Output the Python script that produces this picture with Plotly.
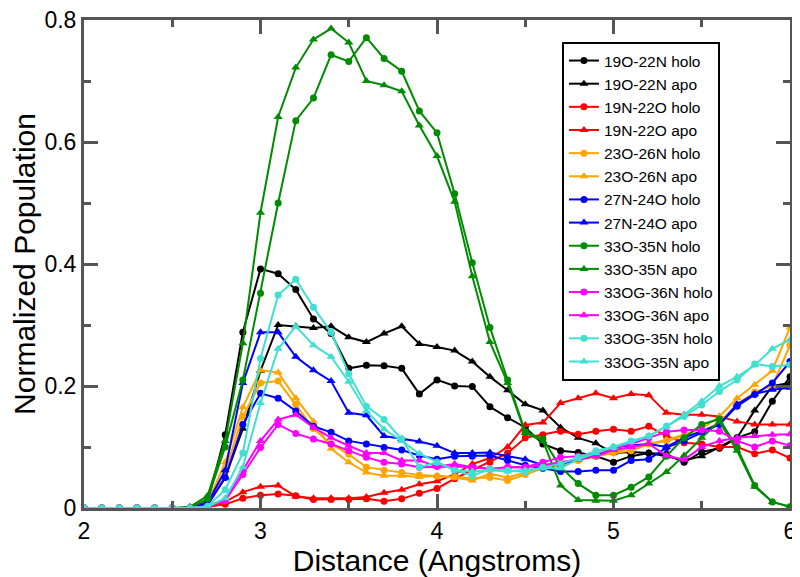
import plotly.graph_objects as go

distance = [round(2.0 + 0.1 * i, 1) for i in range(41)]
Z = [0.0] * 6  # 2.0 .. 2.5

holo_19O_22N = Z + [0.0, 0.01, 0.12, 0.288, 0.392, 0.384, 0.358, 0.31, 0.286, 0.229, 0.234, 0.233, 0.229, 0.187, 0.21, 0.2, 0.199, 0.166, 0.148, 0.132, 0.105, 0.094, 0.091, 0.085, 0.075, 0.085, 0.09, 0.088, 0.075, 0.092, 0.098, 0.115, 0.125, 0.175, 0.215]
apo_19O_22N = Z + [0.0, 0.005, 0.05, 0.13, 0.225, 0.30, 0.298, 0.295, 0.298, 0.28, 0.272, 0.286, 0.298, 0.269, 0.264, 0.258, 0.24, 0.215, 0.193, 0.17, 0.16, 0.132, 0.115, 0.106, 0.09, 0.092, 0.09, 0.085, 0.078, 0.085, 0.1, 0.115, 0.16, 0.2, 0.205]
holo_19N_22O = Z + [0.0, 0.002, 0.006, 0.016, 0.021, 0.023, 0.02, 0.014, 0.014, 0.014, 0.015, 0.011, 0.015, 0.024, 0.032, 0.048, 0.062, 0.075, 0.09, 0.115, 0.12, 0.126, 0.121, 0.126, 0.129, 0.126, 0.134, 0.118, 0.107, 0.105, 0.1, 0.1, 0.089, 0.095, 0.082]
apo_19N_22O = Z + [0.0, 0.003, 0.01, 0.026, 0.035, 0.037, 0.019, 0.016, 0.016, 0.016, 0.018, 0.025, 0.03, 0.039, 0.044, 0.055, 0.072, 0.082, 0.1, 0.136, 0.14, 0.172, 0.18, 0.188, 0.18, 0.187, 0.185, 0.156, 0.153, 0.153, 0.15, 0.142, 0.137, 0.137, 0.137]
holo_23O_26N = Z + [0.0, 0.005, 0.06, 0.15, 0.205, 0.208, 0.17, 0.13, 0.105, 0.088, 0.067, 0.062, 0.058, 0.054, 0.052, 0.051, 0.049, 0.05, 0.045, 0.055, 0.065, 0.07, 0.078, 0.085, 0.09, 0.094, 0.105, 0.11, 0.118, 0.125, 0.14, 0.17, 0.19, 0.2, 0.267]
apo_23O_26N = Z + [0.0, 0.008, 0.075, 0.165, 0.226, 0.222, 0.18, 0.142, 0.097, 0.075, 0.058, 0.053, 0.053, 0.051, 0.053, 0.05, 0.045, 0.056, 0.05, 0.058, 0.067, 0.072, 0.08, 0.089, 0.092, 0.098, 0.105, 0.112, 0.12, 0.13, 0.15, 0.18, 0.202, 0.225, 0.296]
holo_27N_24O = Z + [0.0, 0.005, 0.05, 0.137, 0.188, 0.18, 0.159, 0.134, 0.124, 0.11, 0.105, 0.099, 0.095, 0.086, 0.08, 0.085, 0.085, 0.086, 0.078, 0.07, 0.065, 0.06, 0.06, 0.062, 0.062, 0.078, 0.08, 0.099, 0.11, 0.124, 0.137, 0.167, 0.186, 0.205, 0.24]
apo_27N_24O = Z + [0.0, 0.008, 0.062, 0.205, 0.288, 0.288, 0.248, 0.226, 0.208, 0.156, 0.152, 0.118, 0.113, 0.109, 0.102, 0.09, 0.09, 0.091, 0.085, 0.08, 0.07, 0.072, 0.08, 0.085, 0.1, 0.103, 0.105, 0.1, 0.115, 0.126, 0.137, 0.17, 0.187, 0.194, 0.197]
holo_33O_35N = Z + [0.0, 0.015, 0.1, 0.21, 0.352, 0.5, 0.635, 0.672, 0.743, 0.732, 0.771, 0.737, 0.716, 0.651, 0.615, 0.515, 0.402, 0.296, 0.21, 0.125, 0.113, 0.067, 0.04, 0.021, 0.021, 0.034, 0.051, 0.085, 0.115, 0.137, 0.146, 0.099, 0.037, 0.01, 0.002]
apo_33O_35N = Z + [0.002, 0.02, 0.11, 0.27, 0.484, 0.641, 0.722, 0.768, 0.786, 0.763, 0.700, 0.693, 0.683, 0.627, 0.577, 0.502, 0.38, 0.272, 0.205, 0.123, 0.11, 0.037, 0.013, 0.012, 0.012, 0.021, 0.04, 0.059, 0.086, 0.115, 0.142, 0.094, 0.035, 0.01, 0.002]
holo_33OG_36N = Z + [0.0, 0.002, 0.012, 0.055, 0.099, 0.137, 0.122, 0.113, 0.105, 0.094, 0.083, 0.075, 0.072, 0.067, 0.068, 0.068, 0.067, 0.064, 0.067, 0.067, 0.075, 0.083, 0.085, 0.089, 0.098, 0.105, 0.115, 0.125, 0.128, 0.128, 0.126, 0.11, 0.1, 0.11, 0.102]
apo_33OG_36N = Z + [0.0, 0.003, 0.015, 0.062, 0.11, 0.145, 0.153, 0.132, 0.115, 0.102, 0.09, 0.09, 0.078, 0.078, 0.068, 0.072, 0.067, 0.064, 0.067, 0.067, 0.07, 0.075, 0.08, 0.085, 0.095, 0.1, 0.105, 0.086, 0.079, 0.1, 0.11, 0.115, 0.118, 0.12, 0.121]
holo_33OG_35N = Z + [0.0, 0.003, 0.03, 0.09, 0.245, 0.349, 0.375, 0.329, 0.288, 0.22, 0.167, 0.145, 0.113, 0.067, 0.075, 0.062, 0.053, 0.064, 0.062, 0.059, 0.067, 0.072, 0.083, 0.094, 0.1, 0.11, 0.118, 0.134, 0.15, 0.169, 0.191, 0.21, 0.236, 0.232, 0.235]
apo_33OG_35N = Z + [0.0, 0.002, 0.016, 0.067, 0.172, 0.261, 0.298, 0.267, 0.248, 0.207, 0.159, 0.129, 0.11, 0.089, 0.075, 0.062, 0.06, 0.062, 0.06, 0.062, 0.065, 0.065, 0.08, 0.09, 0.1, 0.108, 0.118, 0.134, 0.153, 0.175, 0.2, 0.215, 0.234, 0.261, 0.276]

names = ["19O-22N holo", "19O-22N apo", "19N-22O holo", "19N-22O apo",
         "23O-26N holo", "23O-26N apo", "27N-24O holo", "27N-24O apo",
         "33O-35N holo", "33O-35N apo", "33OG-36N holo", "33OG-36N apo",
         "33OG-35N holo", "33OG-35N apo"]
series = [holo_19O_22N, apo_19O_22N, holo_19N_22O, apo_19N_22O,
          holo_23O_26N, apo_23O_26N, holo_27N_24O, apo_27N_24O,
          holo_33O_35N, apo_33O_35N, holo_33OG_36N, apo_33OG_36N,
          holo_33OG_35N, apo_33OG_35N]
colors = ["black", "black", "#ff0000", "#ff0000", "#ffa500", "#ffa500",
          "#0000ff", "#0000ff", "#008c00", "#008c00", "#ff00ff", "#ff00ff",
          "#40e0d0", "#40e0d0"]

x_range = [2, 6]
y_range = [0, 0.8]
x_major = [2, 3, 4, 5, 6]
x_minor = [2.5, 3.5, 4.5, 5.5]
y_major = [0, 0.2, 0.4, 0.6, 0.8]
y_labels = ["0", "0.2", "0.4", "0.6", "0.8"]
y_minor = [0.1, 0.3, 0.5, 0.7]

fig = go.Figure()
for name, ys, c in zip(names, series, colors):
    sym = "circle" if name.endswith("holo") else "triangle-up"
    fig.add_trace(go.Scatter(
        x=distance, y=ys, name=name, mode="lines+markers",
        line=dict(color=c, width=2),
        marker=dict(symbol=sym, size=7 if sym == "circle" else 8, color=c),
    ))

FONT = "Liberation Sans, Arial, sans-serif"
FRAME = "#555555"
base = dict(showline=True, linecolor=FRAME, linewidth=3, mirror="ticks",
            ticks="inside", ticklen=14, tickwidth=3, tickcolor=FRAME,
            showgrid=False, zeroline=False, automargin=False,
            tickmode="array", ticklabeloverflow="allow")

fig.update_layout(
    width=792, height=569,
    margin=dict(l=76, r=10, t=12, b=69, pad=0),
    paper_bgcolor="white", plot_bgcolor="white",
    font=dict(family=FONT, color="black"),
    xaxis=dict(range=x_range, tickvals=x_major, ticktext=[str(v) for v in x_major],
               minor=dict(tickmode="array", tickvals=x_minor, ticks="inside", ticklen=7,
                          tickwidth=3, tickcolor=FRAME, showgrid=False),
               tickfont=dict(family=FONT, size=23, color="black"),
               title=dict(text="Distance (Angstroms)", font=dict(size=30), standoff=0),
               **base),
    yaxis=dict(range=y_range, tickvals=y_major, ticktext=y_labels,
               minor=dict(tickmode="array", tickvals=y_minor, ticks="inside", ticklen=7,
                          tickwidth=3, tickcolor=FRAME, showgrid=False),
               tickfont=dict(family=FONT, size=23, color="black"),
               title=dict(text="Normalized Population", font=dict(size=30), standoff=18),
               **base),
    legend=dict(x=0.677, y=0.955, xanchor="left", yanchor="top",
                bgcolor="white", bordercolor="black", borderwidth=2,
                font=dict(size=15.5, color="black"), itemwidth=30,
                tracegroupgap=0),
    showlegend=True,
)

fig.write_html("out.html")
